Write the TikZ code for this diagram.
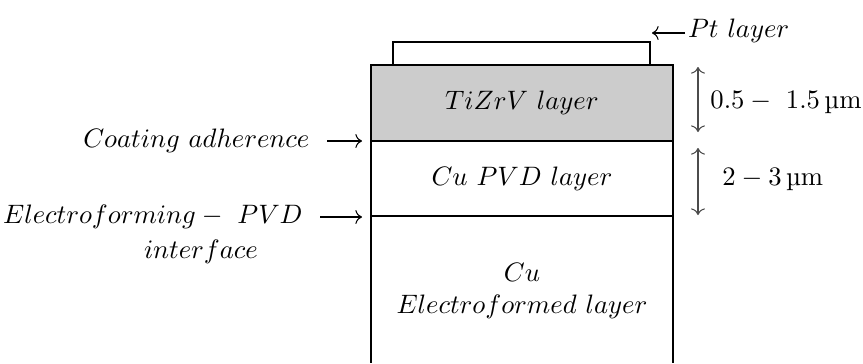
\documentclass[tikz,border=0pt]{standalone}
\usepackage{amsmath}
\usetikzlibrary{arrows.meta,positioning}
\definecolor{coat}{gray}{0.8}
\definecolor{ink}{gray}{0}
\definecolor{dimline}{gray}{0.3}

\begin{document}
\begin{tikzpicture}[x=0.375pt,y=-0.375pt]
  \tikzstyle{lbl}=[text=ink]
  \tikzstyle{ptr}=[->,shorten <=3pt]
  \tikzstyle{dim}=[<->,dimline]
  \useasboundingbox (0,0) rectangle (863,363);
  % layer stack
  \draw[ink] (393,65) rectangle (650,42);
  \draw[ink,fill=coat] (371,65) rectangle (673,141);
  \draw[ink] (371,141) -- (371,363) (673,141) -- (673,363) (371,216) -- (673,216);
  \node[lbl] (tizrv) at (522,103) {$TiZrV\ layer$};
  \node[lbl] (cupvd) at (522,179) {$Cu\ PVD\ layer$};
  \node[lbl,align=center] (cuel) at (522,291) {$Cu$\\$Electroformed\ layer$};
  % left labels
  \coordinate (adhpt) at (362,141);
  \coordinate (efpt) at (362,217);
  \node[lbl,anchor=east] (adh) at (319,141) {$Coating\ adherence$};
  \node[lbl,anchor=east] (ef) at (312,217) {$Electroforming-\ PVD$};
  \node[lbl] (iface) at (201,252) {$interface$};
  \draw[ptr] (adh) -- (adhpt);
  \draw[ptr] (ef) -- (efpt);
  % Pt layer
  \coordinate (ptpt) at (652,33);
  \node[lbl,anchor=west,inner xsep=1pt] (pt) at (685,31) {$Pt\ layer$};
  \draw[->] (pt.west |- ptpt) -- (ptpt);
  % thicknesses
  \coordinate (d1a) at (698,67);
  \coordinate (d1b) at (698,132);
  \coordinate (d2a) at (698,148);
  \coordinate (d2b) at (698,215);
  \draw[dim] (d1a) -- (d1b);
  \draw[dim] (d2a) -- (d2b);
  \node[lbl,anchor=west] (t1) at (701,102) {$0.5-\ 1.5$\,\textmu m};
  \node[lbl,anchor=west] (t2) at (713,179) {$2-3$\,\textmu m};
\end{tikzpicture}
\end{document}
